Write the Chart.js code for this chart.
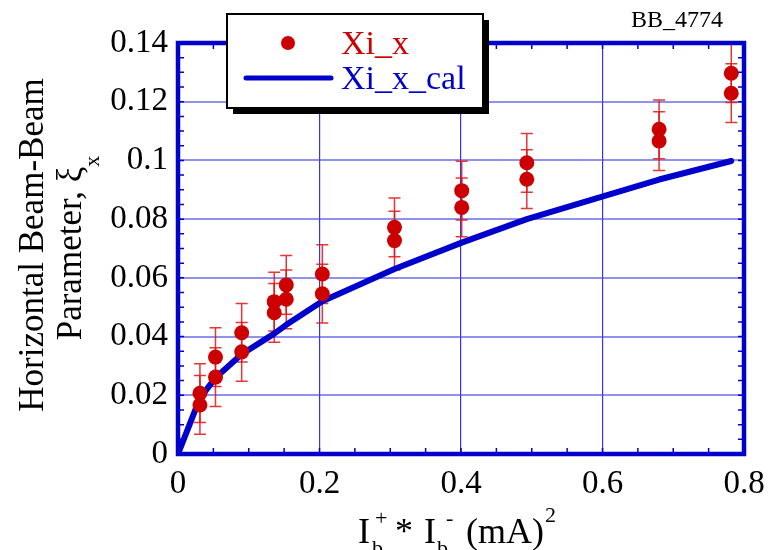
<!DOCTYPE html>
<html>
<head>
<meta charset="utf-8">
<script src="https://cdn.jsdelivr.net/npm/chart.js@4/dist/chart.umd.min.js"></script>
<style>
  html, body { margin: 0; padding: 0; background: #fff; }
  #wrap { width: 768px; height: 550px; }
</style>
</head>
<body>
<div id="wrap"><canvas id="beamChart"></canvas></div>
<script>
// measured beam-beam parameter (two readings per current product)
const xiX = [0.031, 0.031, 0.053, 0.053, 0.09, 0.09, 0.136, 0.136, 0.153, 0.153, 0.204, 0.204,
             0.306, 0.306, 0.401, 0.401, 0.493, 0.493, 0.680, 0.680, 0.782, 0.782];
const xiY = [0.0207, 0.0167, 0.0330, 0.0262, 0.0413, 0.0348, 0.0519, 0.0481, 0.0576, 0.0527, 0.0613, 0.0546,
             0.0772, 0.0727, 0.0897, 0.0840, 0.0992, 0.0936, 0.1106, 0.1066, 0.1297, 0.1229];
const xiErr = [0.01, 0.01, 0.01, 0.01, 0.01, 0.01, 0.01, 0.01, 0.01, 0.01, 0.01, 0.01,
               0.01, 0.01, 0.01, 0.01, 0.01, 0.01, 0.01, 0.01, 0.01, 0.01];

// calculated curve
const calX = [0, 0.031, 0.053, 0.09, 0.136, 0.153, 0.204, 0.306, 0.401, 0.493, 0.680, 0.782];
const calY = [0, 0.019, 0.026, 0.034, 0.041, 0.044, 0.052, 0.063, 0.072, 0.080, 0.0935, 0.0998];

const xTicks = [0, 0.2, 0.4, 0.6, 0.8];
const xTickLabels = ['0', '0.2', '0.4', '0.6', '0.8'];
const yTicks = [0, 0.02, 0.04, 0.06, 0.08, 0.1, 0.12, 0.14];
const yTickLabels = ['0', '0.02', '0.04', '0.06', '0.08', '0.1', '0.12', '0.14'];
const xMinorStep = 0.05;
const yMinorStep = 0.005;

const RED = '#cc0000';
const BLUE = '#0000cc';
const SERIF = '"Liberation Serif", "Times New Roman", serif';

// pieces of the x title: dx from the left of the title, dy from the baseline
const xTitleParts = [
    { t: 'I', size: 36, dx: 0, dy: 0 },
    { t: '+', size: 22, dx: 17, dy: -18 },
    { t: 'b', size: 22, dx: 14, dy: 12 },
    { t: '*', size: 36, dx: 37, dy: 0 },
    { t: 'I', size: 36, dx: 66, dy: 0 },
    { t: 'b', size: 22, dx: 79, dy: 12 },
    { t: '-', size: 22, dx: 88, dy: -18 },
    { t: '(mA)', size: 36, dx: 108, dy: 0 },
    { t: '2', size: 22, dx: 187, dy: -21 }
];

function drawRuns(ctx, x, y, runs) {
    for (const r of runs) {
        ctx.font = `${r.size}px ${SERIF}`;
        ctx.fillText(r.t, x, y + (r.dy || 0));
        x += ctx.measureText(r.t).width;
    }
}

function runsWidth(ctx, runs) {
    let w = 0;
    for (const r of runs) {
        ctx.font = `${r.size}px ${SERIF}`;
        w += ctx.measureText(r.t).width;
    }
    return w;
}

const decor = {
    id: 'decor',
    beforeDatasetsDraw(chart) {
        const { ctx, scales: { x, y } } = chart;
        ctx.save();
        ctx.strokeStyle = 'rgba(225,20,20,0.85)';
        ctx.lineWidth = 1.5;
        for (let i = 0; i < xiX.length; i++) {
            const px = x.getPixelForValue(xiX[i]);
            const top = y.getPixelForValue(Math.min(xiY[i] + xiErr[i], 0.14));
            const bot = y.getPixelForValue(xiY[i] - xiErr[i]);
            ctx.beginPath();
            ctx.moveTo(px, top); ctx.lineTo(px, bot);
            ctx.moveTo(px - 6, top); ctx.lineTo(px + 6, top);
            ctx.moveTo(px - 6, bot); ctx.lineTo(px + 6, bot);
            ctx.stroke();
        }
        ctx.restore();
    },
    afterDatasetsDraw(chart) {
        const { ctx, chartArea: a, scales: { x, y } } = chart;
        ctx.save();
        // minor ticks on all four sides, pointing inward
        ctx.strokeStyle = BLUE;
        ctx.lineWidth = 1.5;
        ctx.beginPath();
        for (let v = xMinorStep; v < 0.8 - 1e-9; v += xMinorStep) {
            const px = x.getPixelForValue(v);
            ctx.moveTo(px, a.bottom); ctx.lineTo(px, a.bottom - 6);
            ctx.moveTo(px, a.top); ctx.lineTo(px, a.top + 6);
        }
        for (let v = yMinorStep; v < 0.14 - 1e-9; v += yMinorStep) {
            const py = y.getPixelForValue(v);
            ctx.moveTo(a.left, py); ctx.lineTo(a.left + 6, py);
            ctx.moveTo(a.right, py); ctx.lineTo(a.right - 6, py);
        }
        ctx.stroke();
        // frame
        ctx.lineWidth = 4.5;
        ctx.strokeRect(a.left, a.top, a.right - a.left, a.bottom - a.top);
        ctx.restore();
    },
    afterDraw(chart) {
        const { ctx } = chart;
        ctx.save();
        // legend box with shadow
        const bx = 227, by = 14, bw = 256, bh = 94;
        ctx.fillStyle = '#000';
        ctx.fillRect(bx + 6, by + 6, bw, bh);
        ctx.fillStyle = '#fff';
        ctx.fillRect(bx, by, bw, bh);
        ctx.strokeStyle = '#000';
        ctx.lineWidth = 2;
        ctx.strokeRect(bx, by, bw, bh);

        ctx.fillStyle = RED;
        ctx.beginPath();
        ctx.arc(288, 43, 7, 0, Math.PI * 2);
        ctx.fill();
        ctx.strokeStyle = BLUE;
        ctx.lineWidth = 5;
        ctx.lineCap = 'round';
        ctx.beginPath();
        ctx.moveTo(246, 78); ctx.lineTo(331, 78);
        ctx.stroke();

        ctx.textBaseline = 'alphabetic';
        ctx.textAlign = 'left';
        ctx.font = `34px ${SERIF}`;
        ctx.fillStyle = RED;
        ctx.fillText('Xi_x', 341, 54);
        ctx.fillStyle = BLUE;
        ctx.fillText('Xi_x_cal', 341, 89);

        // tag
        ctx.fillStyle = '#000';
        ctx.textAlign = 'center';
        ctx.font = `24px ${SERIF}`;
        ctx.fillText('BB_4774', 677, 27);

        // x axis title
        ctx.textAlign = 'left';
        for (const p of xTitleParts) {
            ctx.font = `${p.size}px ${SERIF}`;
            ctx.fillText(p.t, 358 + p.dx, 543 + p.dy);
        }

        // y axis title (two rotated lines)
        ctx.save();
        ctx.translate(43, 245);
        ctx.rotate(-Math.PI / 2);
        ctx.textAlign = 'center';
        ctx.font = `35px ${SERIF}`;
        ctx.fillText('Horizontal Beam-Beam', 0, 0);
        ctx.restore();

        ctx.save();
        ctx.translate(81, 248);
        ctx.rotate(-Math.PI / 2);
        ctx.textAlign = 'left';
        const yRuns = [
            { t: 'Parameter, \u03BE', size: 35 },
            { t: 'x', size: 22, dy: 18 }
        ];
        const yw = runsWidth(ctx, yRuns);
        drawRuns(ctx, -yw / 2, 0, yRuns);
        ctx.restore();

        ctx.restore();
    }
};

new Chart(document.getElementById('beamChart'), {
    type: 'scatter',
    data: {
        datasets: [
            {
                label: 'Xi_x',
                data: xiX.map((v, i) => ({ x: v, y: xiY[i] })),
                backgroundColor: RED,
                borderWidth: 0,
                pointRadius: 7.5,
                pointHoverRadius: 7.5
            },
            {
                label: 'Xi_x_cal',
                data: calX.map((v, i) => ({ x: v, y: calY[i] })),
                showLine: true,
                borderColor: BLUE,
                borderWidth: 6,
                borderCapStyle: 'round',
                borderJoinStyle: 'round',
                pointRadius: 0,
                tension: 0
            }
        ]
    },
    options: {
        responsive: true,
        maintainAspectRatio: false,
        animation: false,
        events: [],
        layout: { padding: { left: 0, top: 43, right: 24, bottom: 0 } },
        plugins: { legend: { display: false }, tooltip: { enabled: false } },
        scales: {
            x: {
                type: 'linear',
                min: 0, max: 0.8,
                afterBuildTicks: s => { s.ticks = xTicks.map(v => ({ value: v })); },
                afterFit: s => { s.height = 96; },
                ticks: {
                    callback: (v, i) => xTickLabels[i],
                    font: { family: SERIF, size: 33 },
                    color: '#000',
                    padding: 2,
                    maxRotation: 0
                },
                grid: { color: 'rgba(30,30,225,0.9)', lineWidth: 1.2, drawTicks: true, tickLength: 9, tickColor: 'rgba(0,0,0,0)' },
                border: { display: false }
            },
            y: {
                type: 'linear',
                min: 0, max: 0.14,
                afterBuildTicks: s => { s.ticks = yTicks.map(v => ({ value: v })); },
                afterFit: s => { s.width = 178; },
                ticks: {
                    callback: (v, i) => yTickLabels[i],
                    font: { family: SERIF, size: 33 },
                    color: '#000',
                    padding: 10
                },
                grid: { color: 'rgba(70,70,225,0.6)', lineWidth: 2, drawTicks: false },
                border: { display: false }
            }
        }
    },
    plugins: [decor]
});
</script>
</body>
</html>
